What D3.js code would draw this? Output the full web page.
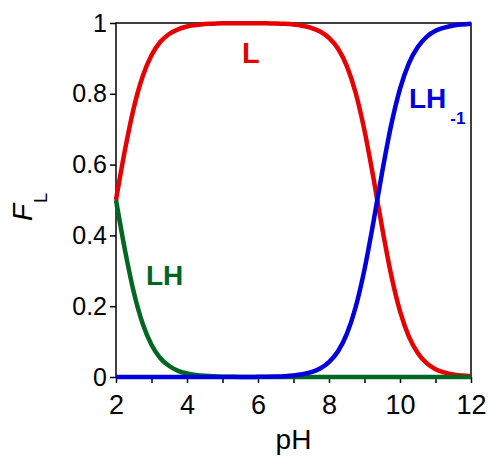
<!DOCTYPE html>
<html>
<head>
<meta charset="utf-8">
<script src="https://cdn.jsdelivr.net/npm/d3@7"></script>
<style>
  body { margin: 0; background: #fff; }
  svg text { font-family: "Liberation Sans", Arial, sans-serif; }
</style>
</head>
<body>
<div id="chart"></div>
<script>
// pH grid and fraction of each species
var pH = [2, 2.25, 2.5, 2.75, 3, 3.25, 3.5, 3.75, 4, 4.25, 4.5, 4.75, 5, 5.25, 5.5, 5.75, 6,
          6.25, 6.5, 6.75, 7, 7.25, 7.5, 7.75, 8, 8.25, 8.5, 8.75, 9, 9.25, 9.5, 9.75, 10,
          10.25, 10.5, 10.75, 11, 11.25, 11.5, 11.75, 12];
var fracL = [0.5, 0.64, 0.76, 0.849, 0.909, 0.947, 0.969, 0.982, 0.99, 0.994, 0.997, 0.998, 0.999, 0.999, 0.999, 0.999, 0.9995,
             0.999, 0.9986, 0.9976, 0.9957, 0.9923, 0.986, 0.976, 0.958, 0.928, 0.879, 0.803, 0.696, 0.563, 0.42, 0.289, 0.186,
             0.114, 0.068, 0.039, 0.022, 0.013, 0.007, 0.004, 0.002];
var fracLH = [0.5, 0.36, 0.24, 0.151, 0.091, 0.053, 0.031, 0.0175, 0.0099, 0.0056, 0.0032, 0.0018, 0.001, 0.0006, 0.0003, 0.0002, 0.0001,
              0, 0, 0, 0, 0, 0, 0, 0, 0, 0, 0, 0, 0, 0, 0, 0,
              0, 0, 0, 0, 0, 0, 0, 0];
var fracLH1 = [0, 0, 0, 0, 0, 0, 0, 0, 0, 0, 0, 0, 0, 0, 0, 0, 0.0004,
               0.0008, 0.0014, 0.0024, 0.0043, 0.0077, 0.0136, 0.024, 0.042, 0.072, 0.121, 0.197, 0.304, 0.437, 0.58, 0.711, 0.814,
               0.886, 0.932, 0.961, 0.978, 0.987, 0.993, 0.996, 0.998];
var xTicks = [2, 3, 4, 5, 6, 7, 8, 9, 10, 11, 12];
var yTicks = [0, 0.2, 0.4, 0.6, 0.8, 1];

var width = 488, height = 456;
var margin = { top: 23, right: 17, bottom: 79, left: 116 };

var svg = d3.select('#chart').append('svg')
    .attr('width', width)
    .attr('height', height);

var x = d3.scaleLinear().domain([2, 12]).range([margin.left, width - margin.right]);
var y = d3.scaleLinear().domain([0, 1]).range([height - margin.bottom, margin.top]);

// x axis
svg.append('g')
    .attr('transform', 'translate(0,' + y(0) + ')')
    .call(d3.axisBottom(x).tickValues(xTicks).tickSize(6).tickPadding(12)
        .tickFormat(function(d) { return d % 2 === 0 ? d : ''; }))
    .call(function(g) {
        g.select('.domain').remove();
        g.selectAll('line').attr('stroke', '#000').attr('stroke-width', 1.5);
        g.selectAll('text').attr('font-size', 27).attr('fill', '#000');
    });

// y axis
svg.append('g')
    .attr('transform', 'translate(' + x(2) + ',0)')
    .call(d3.axisLeft(y).tickValues(yTicks).tickSize(6).tickPadding(3)
        .tickFormat(function(d) { return String(+d.toFixed(1)); }))
    .call(function(g) {
        g.select('.domain').remove();
        g.selectAll('line').attr('stroke', '#000').attr('stroke-width', 1.5);
        g.selectAll('text').attr('font-size', 25).attr('fill', '#000');
    });

// frame
svg.append('rect')
    .attr('x', x(2)).attr('y', y(1))
    .attr('width', x(12) - x(2)).attr('height', y(0) - y(1))
    .attr('fill', 'none').attr('stroke', '#000').attr('stroke-width', 1.5);

var series = [
    { vals: fracL, color: '#e60000' },
    { vals: fracLH, color: '#006622' },
    { vals: fracLH1, color: '#0000dd' }
];

var line = d3.line()
    .x(function(d) { return x(d[0]); })
    .y(function(d) { return y(d[1]); })
    .curve(d3.curveMonotoneX);

series.forEach(function(s) {
    svg.append('path')
        .datum(pH.map(function(p, i) { return [p, s.vals[i]]; }))
        .attr('fill', 'none')
        .attr('stroke', s.color)
        .attr('stroke-width', 4.5)
        .attr('stroke-linejoin', 'round')
        .attr('d', line);
});

// curve labels
svg.append('text').attr('x', 242).attr('y', 63)
    .attr('font-size', 29).attr('font-weight', 'bold').attr('fill', '#e60000').text('L');
svg.append('text').attr('x', 146).attr('y', 285)
    .attr('font-size', 28).attr('font-weight', 'bold').attr('fill', '#006622').text('LH');
var lh1 = svg.append('text').attr('x', 409).attr('y', 108)
    .attr('font-size', 28).attr('font-weight', 'bold').attr('fill', '#0000dd');
lh1.append('tspan').text('LH');
lh1.append('tspan').attr('dx', 4).attr('dy', 16).attr('font-size', 17).text('-1');

// axis titles
svg.append('text').attr('x', x(7)).attr('y', 449)
    .attr('text-anchor', 'middle').attr('font-size', 28).attr('fill', '#000').text('pH');
var fl = svg.append('text')
    .attr('transform', 'translate(32,221) rotate(-90)')
    .attr('font-size', 28).attr('fill', '#000');
fl.append('tspan').attr('font-style', 'italic').text('F');
fl.append('tspan').attr('dx', 1).attr('dy', 15).attr('font-size', 18).text('L');
</script>
</body>
</html>
